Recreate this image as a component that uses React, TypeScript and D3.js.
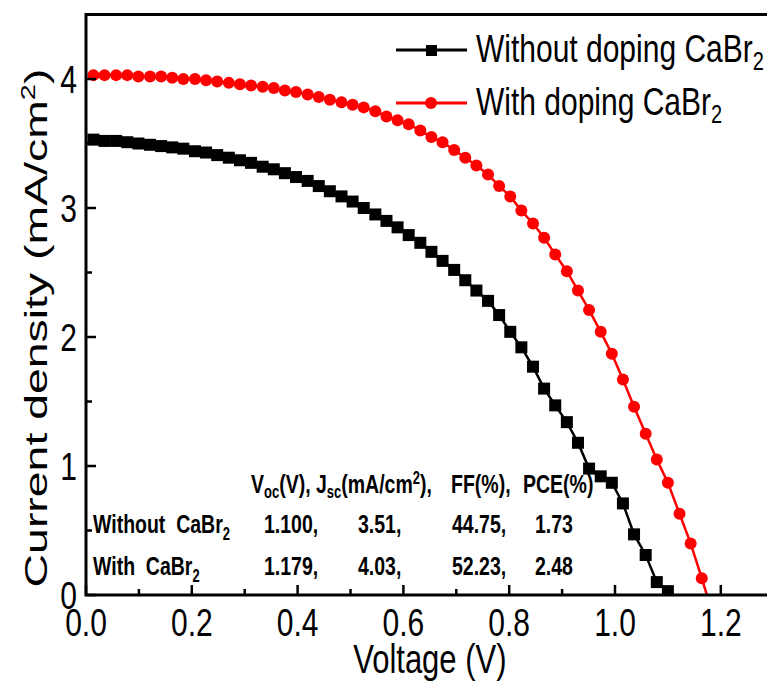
import React from "react";
import * as d3 from "d3";

const width = 767;
const height = 682;
const K = 1.3; // the original figure is stretched vertically, text looks tall and narrow

// J-V curves
const voltageUndoped = [
  0.014, 0.035, 0.057, 0.078, 0.099, 0.121, 0.142, 0.163, 0.184, 0.206,
  0.227, 0.248, 0.27, 0.291, 0.312, 0.334, 0.355, 0.376, 0.397, 0.419,
  0.44, 0.461, 0.483, 0.504, 0.525, 0.547, 0.568, 0.589, 0.61, 0.632,
  0.653, 0.674, 0.696, 0.717, 0.738, 0.76, 0.781, 0.802, 0.823, 0.845,
  0.866, 0.887, 0.909, 0.93, 0.951, 0.973, 0.994, 1.015, 1.036, 1.058,
  1.079, 1.1, 1.122
];
const currentUndoped = [
  3.53, 3.52, 3.52, 3.51, 3.5, 3.49, 3.48, 3.47, 3.46, 3.44,
  3.43, 3.41, 3.39, 3.37, 3.35, 3.32, 3.3, 3.27, 3.24, 3.21,
  3.17, 3.13, 3.09, 3.05, 3.0, 2.95, 2.9, 2.85, 2.79, 2.73,
  2.66, 2.59, 2.52, 2.44, 2.36, 2.28, 2.17, 2.04, 1.92, 1.77,
  1.6, 1.47, 1.34, 1.18, 0.98, 0.92, 0.87, 0.71, 0.47, 0.31,
  0.1, 0.03, -0.06
];
const voltageDoped = [
  0.014, 0.035, 0.057, 0.078, 0.099, 0.121, 0.142, 0.163, 0.184, 0.206,
  0.227, 0.248, 0.27, 0.291, 0.312, 0.334, 0.355, 0.376, 0.397, 0.419,
  0.44, 0.461, 0.483, 0.504, 0.525, 0.547, 0.568, 0.589, 0.61, 0.632,
  0.653, 0.674, 0.696, 0.717, 0.738, 0.76, 0.781, 0.802, 0.823, 0.845,
  0.866, 0.887, 0.909, 0.93, 0.951, 0.973, 0.994, 1.015, 1.036, 1.058,
  1.079, 1.1, 1.122, 1.143, 1.164, 1.185
];
const currentDoped = [
  4.03, 4.03, 4.03, 4.03, 4.02, 4.02, 4.02, 4.01, 4.0, 4.0,
  3.99, 3.98, 3.97, 3.96, 3.95, 3.94, 3.93, 3.91, 3.9, 3.88,
  3.86, 3.84, 3.82, 3.8, 3.78, 3.75, 3.71, 3.68, 3.65, 3.6,
  3.55, 3.51, 3.45, 3.39, 3.33, 3.26, 3.17, 3.09, 2.98, 2.88,
  2.77, 2.64, 2.51, 2.36, 2.21, 2.04, 1.87, 1.67, 1.46, 1.25,
  1.05, 0.87, 0.63, 0.4, 0.13, -0.15
];

const xMajorTicks = [0, 0.2, 0.4, 0.6, 0.8, 1.0, 1.2];
const xMinorTicks = [0.1, 0.3, 0.5, 0.7, 0.9, 1.1];
const yMajorTicks = [0, 1, 2, 3, 4];
const yMinorTicks = [0.5, 1.5, 2.5, 3.5];

const tableRows = ["Without  CaBr", "With  CaBr"];
const tableVoc = ["1.100,", "1.179,"];
const tableJsc = ["3.51,", "4.03,"];
const tableFF = ["44.75,", "52.23,"];
const tablePCE = ["1.73", "2.48"];

const font = "'Liberation Sans', Arial, sans-serif";

const x = d3.scaleLinear().domain([0, 1.3]).range([86, 86 + 529 * 1.3]);
const y = d3.scaleLinear().domain([0, 4.5]).range([595, 14.5]);

function toPoints(vs: number[], js: number[]): [number, number][] {
  return vs.map((v, i) => [x(v), y(js[i])]);
}

// text drawn at (tx, ty) baseline, stretched vertically like the source
function Tall(props: any) {
  const { tx, ty, size, weight, anchor, k, children } = props;
  return (
    <text
      transform={`translate(${tx},${ty}) scale(1,${k || K})`}
      fontSize={size}
      fontWeight={weight || "normal"}
      textAnchor={anchor || "start"}
      fontFamily={font}
      fill="#000"
      style={{ whiteSpace: "pre" }}
    >
      {children}
    </text>
  );
}

export default function App() {
  const line = d3.line();
  const black = toPoints(voltageUndoped, currentUndoped);
  const red = toPoints(voltageDoped, currentDoped);
  const [x0, x1] = x.range();
  const [y0, y1] = y.range();
  const tk = 1.35;
  const ts = 19.5;

  return (
    <svg
      width={width}
      height={height}
      style={{ display: "block", position: "absolute", left: 0, top: 0, background: "#fff" }}
    >
      <defs>
        <clipPath id="plot">
          <rect x={x0} y={y1} width={x1 - x0} height={y0 - y1} />
        </clipPath>
      </defs>

      <g clipPath="url(#plot)">
        <path d={line(black) || ""} fill="none" stroke="#000" strokeWidth={2.5} />
        {black.map(([px, py], i) => (
          <rect key={i} x={px - 6} y={py - 6} width={12} height={12} fill="#000" />
        ))}
        <path d={line(red) || ""} fill="none" stroke="#f00" strokeWidth={2.5} />
        {red.map(([px, py], i) => (
          <circle key={i} cx={px} cy={py} r={6} fill="#f00" />
        ))}
      </g>

      {/* frame */}
      <rect x={x0} y={y1} width={x1 - x0} height={y0 - y1} fill="none" stroke="#000" strokeWidth={3} />

      {/* x ticks */}
      {xMajorTicks.map(t => (
        <g key={"xM" + t}>
          <line x1={x(t)} x2={x(t)} y1={y0} y2={y0 - 10} stroke="#000" strokeWidth={2.5} />
          <Tall tx={x(t)} ty={636} size={30} anchor="middle">{t.toFixed(1)}</Tall>
        </g>
      ))}
      {xMinorTicks.map(t => (
        <line key={"xm" + t} x1={x(t)} x2={x(t)} y1={y0} y2={y0 - 6} stroke="#000" strokeWidth={2.5} />
      ))}

      {/* y ticks */}
      {yMajorTicks.map(t => (
        <g key={"yM" + t}>
          <line x1={x0} x2={x0 + 10} y1={y(t)} y2={y(t)} stroke="#000" strokeWidth={2.5} />
          <Tall tx={77} ty={y(t) + 14} size={30} anchor="end">{t}</Tall>
        </g>
      ))}
      {yMinorTicks.map(t => (
        <line key={"ym" + t} x1={x0} x2={x0 + 6} y1={y(t)} y2={y(t)} stroke="#000" strokeWidth={2.5} />
      ))}

      {/* axis titles */}
      <Tall tx={(x0 + x1) / 2} ty={673} size={31} anchor="middle">Voltage (V)</Tall>
      <text
        transform={`translate(47,328) rotate(-90) scale(1.45,1)`}
        fontSize={32}
        fontFamily={font}
        textAnchor="middle"
      >
        Current density (mA/cm<tspan dy={-12} fontSize={20}>2</tspan><tspan dy={12}>)</tspan>
      </text>

      {/* legend */}
      <line x1={396} x2={467} y1={50} y2={50} stroke="#000" strokeWidth={3} />
      <rect x={426} y={45} width={11} height={11} fill="#000" />
      <Tall tx={476} ty={62} size={30}>
        Without doping CaBr<tspan dy={6} fontSize={20}>2</tspan>
      </Tall>
      <line x1={396} x2={467} y1={103} y2={103} stroke="#f00" strokeWidth={3} />
      <circle cx={431} cy={103} r={6} fill="#f00" />
      <Tall tx={476} ty={115} size={30}>
        With doping CaBr<tspan dy={6} fontSize={20}>2</tspan>
      </Tall>

      {/* table */}
      <Tall tx={251} ty={493} size={ts} weight="bold" k={tk}>
        V<tspan dy={4} fontSize={13}>oc</tspan>
        <tspan dy={-4}>(V), J</tspan>
        <tspan dy={4} fontSize={13}>sc</tspan>
        <tspan dy={-4}>(mA/cm</tspan>
        <tspan dy={-7} fontSize={13}>2</tspan>
        <tspan dy={7}>),</tspan>
      </Tall>
      <Tall tx={451} ty={493} size={ts} weight="bold" k={tk}>FF(%),</Tall>
      <Tall tx={523} ty={493} size={ts} weight="bold" k={tk}>PCE(%)</Tall>
      {tableRows.map((r, i) => {
        const by = 533 + i * 42;
        return (
          <g key={r}>
            <Tall tx={93} ty={by} size={ts} weight="bold" k={tk}>
              {r}<tspan dy={5} fontSize={13}>2</tspan>
            </Tall>
            <Tall tx={264} ty={by} size={ts} weight="bold" k={tk}>{tableVoc[i]}</Tall>
            <Tall tx={358} ty={by} size={ts} weight="bold" k={tk}>{tableJsc[i]}</Tall>
            <Tall tx={452} ty={by} size={ts} weight="bold" k={tk}>{tableFF[i]}</Tall>
            <Tall tx={535} ty={by} size={ts} weight="bold" k={tk}>{tablePCE[i]}</Tall>
          </g>
        );
      })}
    </svg>
  );
}
